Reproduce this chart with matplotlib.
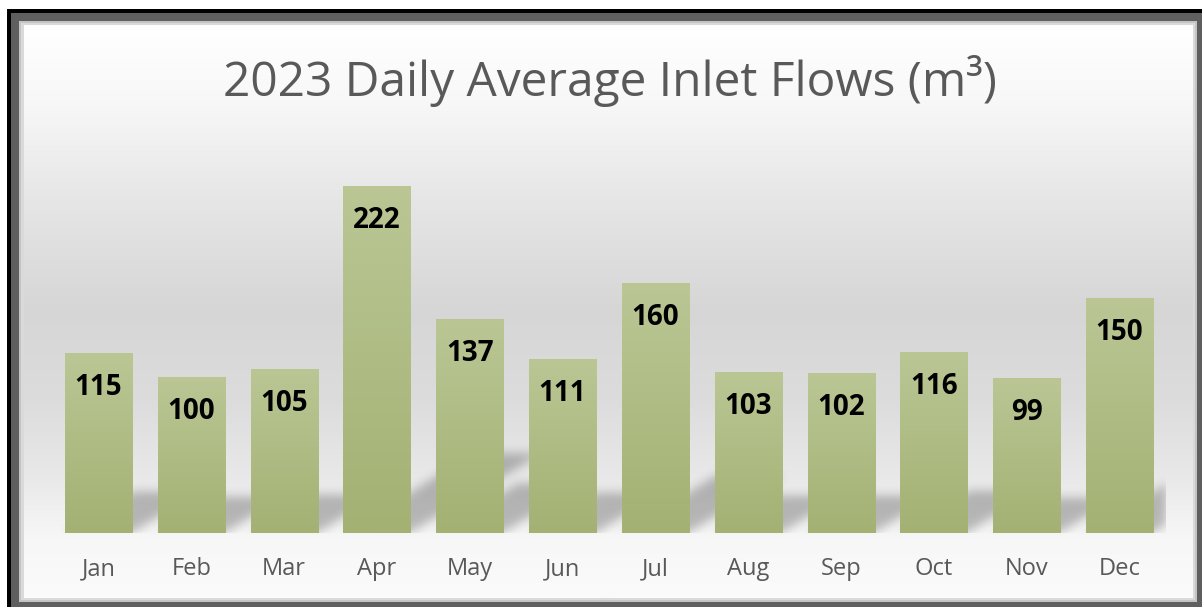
import numpy as np
import matplotlib
matplotlib.use("Agg")
import matplotlib.pyplot as plt
from matplotlib.patches import Rectangle
from matplotlib.colors import to_rgb

# ---------------- data ----------------
months = ["Jan", "Feb", "Mar", "Apr", "May", "Jun",
          "Jul", "Aug", "Sep", "Oct", "Nov", "Dec"]
flows = [115, 100, 105, 222, 137, 111, 160, 103, 102, 116, 99, 150]
title = "2023 Daily Average Inlet Flows (m³)"

W, H = 1202, 607
DPI = 100
FONT = ["Open Sans", "DejaVu Sans"]

fig = plt.figure(figsize=(W / DPI, H / DPI), dpi=DPI)

# ---------------- background / frame (pixel coordinates) ----------------
bg = fig.add_axes([0, 0, 1, 1], zorder=0)
bg.set_xlim(0, W)
bg.set_ylim(H, 0)
bg.axis("off")
bg.add_patch(Rectangle((7, 9), W, H, color="#000000", lw=0))
bg.add_patch(Rectangle((11, 13), W, H, color="#5f5f5f", lw=0))
bg.add_patch(Rectangle((19, 21), 1197 - 19, 602 - 21, color="#c4c4c4", lw=0))
bg.add_patch(Rectangle((21, 23), 1195 - 21, 600 - 23, color="#dadada", lw=0))

# vertical gradient of the chart area
stops_y = [25, 100, 200, 310, 400, 480, 540, 598]
stops_c = ["#ffffff", "#f8f8f8", "#e6e6e6", "#d6d6d6", "#dcdcdc", "#e9e9e9", "#f7f7f7", "#fbfbfb"]
ys = np.arange(25, 599)
cols = np.array([to_rgb(c) for c in stops_c])
grad = np.stack([np.interp(ys, stops_y, cols[:, k]) for k in range(3)], axis=-1)
grad = grad[:, None, :]
bg.imshow(grad, extent=(24, 1193, 598, 25), aspect="auto", interpolation="bilinear", zorder=1)
bg.set_xlim(0, W)
bg.set_ylim(H, 0)

fig.text(609.5 / W, 1 - 96 / H, title, ha="center", va="baseline",
         fontsize=34.5, color="#595959", family=FONT, zorder=5)

# ---------------- main axes ----------------
x0, x1 = 52.1, 1165.9
ybase, ytop = 533, 142
ax = fig.add_axes([x0 / W, (H - ybase) / H, (x1 - x0) / W, (ybase - ytop) / H], zorder=2)
ax.patch.set_alpha(0)
ax.set_xlim(-0.5, 11.5)
ax.set_ylim(0, 250)
for s in ax.spines.values():
    s.set_visible(False)
ax.set_yticks([])
ax.set_xticks(range(len(months)))
ax.set_xticklabels(months, fontsize=17, color="#595959", family=FONT)
ax.tick_params(axis="x", length=0, pad=17.5)

bar_w = 0.722
xs = np.arange(len(months))

# ---------------- perspective shadows (blurred) ----------------
px_per_x = (x1 - x0) / 12.0
px_per_y = (ybase - ytop) / 250.0
gx = np.linspace(-0.5, 11.5, int(x1 - x0))
gy_lo, gy_hi = -12.0, 75.0
gy = np.linspace(gy_lo, gy_hi, int((gy_hi - gy_lo) * px_per_y))
GX, GY = np.meshgrid(gx, gy)
mask = np.zeros_like(GX)
for i, v in zip(xs, flows):
    dy = 0.23 * v
    dx = 0.38 * v * px_per_y / px_per_x
    inside_y = (GY >= 0) & (GY <= dy)
    shift = dx * np.clip(GY, 0, None) / dy
    inside = inside_y & (np.abs(GX - i - shift) <= bar_w / 2)
    mask = np.maximum(mask, inside.astype(float))

def gblur(a, sigma):
    r = int(3 * sigma)
    k = np.exp(-0.5 * (np.arange(-r, r + 1) / sigma) ** 2)
    k /= k.sum()
    a = np.apply_along_axis(lambda m: np.convolve(m, k, mode="same"), 0, a)
    a = np.apply_along_axis(lambda m: np.convolve(m, k, mode="same"), 1, a)
    return a

mask = gblur(mask, 5.0)
shadow = np.zeros(mask.shape + (4,))
shadow[..., 3] = mask * 0.25
ax.imshow(shadow, extent=(-0.5, 11.5, gy_lo, gy_hi), origin="lower",
          aspect="auto", interpolation="bilinear", zorder=1)

# ---------------- bars with vertical gradient ----------------
bars = ax.bar(xs, flows, width=bar_w, color="none", lw=0, zorder=2)
top_c = np.array(to_rgb("#bac795"))
bot_c = np.array(to_rgb("#a3b173"))
t = np.linspace(0, 1, 256)[:, None]
bar_grad = (bot_c[None, :] * (1 - t) + top_c[None, :] * t)[:, None, :]
for b, v in zip(bars, flows):
    xl = b.get_x()
    im = ax.imshow(bar_grad, extent=(xl, xl + b.get_width(), 0, v), origin="lower",
                   aspect="auto", interpolation="bilinear", zorder=3)
    im.set_clip_path(b)

ax.set_xlim(-0.5, 11.5)
ax.set_ylim(0, 250)

# ---------------- value labels ----------------
for i, v in zip(xs, flows):
    ax.annotate(str(v), xy=(i, v), xytext=(0, -42 * 72 / DPI), textcoords="offset points",
                ha="center", va="baseline", fontsize=20, fontweight="bold",
                color="#000000", family=FONT, zorder=4)

fig.savefig("out.png", dpi=DPI)
